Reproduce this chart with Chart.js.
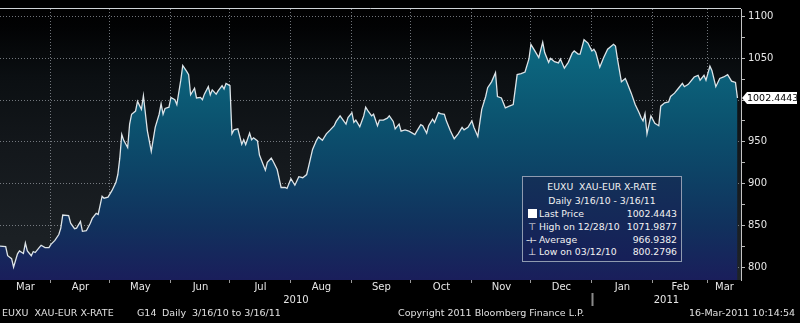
<!DOCTYPE html>
<html><head><meta charset="utf-8">
<script src="https://cdn.jsdelivr.net/npm/chart.js@4/dist/chart.umd.min.js"></script>
<style>
html,body{margin:0;padding:0;background:#000;}
#wrap{position:relative;width:800px;height:323px;overflow:hidden;background:#000;font-family:"DejaVu Sans",sans-serif;color:#e8e8e8;}
#c{position:absolute;left:0;top:0;}
#legend{position:absolute;left:522px;top:176px;width:158px;height:84px;border:1px solid #8f9bb0;background:linear-gradient(#133158,#161f58);font-size:9.3px;color:#f2f2f2;}
#legend .row{position:absolute;left:0;right:0;height:13px;line-height:13px;white-space:pre;}
#legend .c{text-align:center;}
#legend .ic{position:absolute;left:5px;}
#legend .lab{position:absolute;left:16px;}
#legend .val{position:absolute;right:4px;}
#legend .sq{position:absolute;left:5px;top:2px;width:9px;height:9px;background:#fff;}
#last{position:absolute;left:747px;width:50px;height:12px;line-height:12px;background:#fff;color:#000;font-size:9.5px;text-align:center;}
#last:before{content:'';position:absolute;left:-5px;top:0;border-top:6px solid transparent;border-bottom:6px solid transparent;border-right:5px solid #fff;}
#footer span{position:absolute;top:307px;font-size:9.5px;line-height:12px;white-space:pre;color:#e0e0e0;}
</style></head>
<body>
<div id="wrap">
<canvas id="c" width="800" height="323"></canvas>
<div id="legend">
  <div class="row c" style="top:3px">EUXU  XAU-EUR X-RATE</div>
  <div class="row c" style="top:17px">Daily 3/16/10 - 3/16/11</div>
  <div class="row" style="top:30px"><span class="sq"></span><span class="lab">Last Price</span><span class="val" id="vLast"></span></div>
  <div class="row" style="top:43px"><span class="ic">&#x22A4;</span><span class="lab" id="lHigh"></span><span class="val" id="vHigh"></span></div>
  <div class="row" style="top:56px"><span class="ic" style="letter-spacing:-2px;left:3px">-+-</span><span class="lab">Average</span><span class="val" id="vAvg"></span></div>
  <div class="row" style="top:68px"><span class="ic">&#x22A5;</span><span class="lab" id="lLow"></span><span class="val" id="vLow"></span></div>
</div>
<div id="last"></div>
<div id="footer">
  <span style="left:2px">EUXU  XAU-EUR X-RATE</span>
  <span style="left:137px">G14</span>
  <span style="left:162px">Daily  3/16/10 to 3/16/11</span>
  <span style="left:398px">Copyright 2011 Bloomberg Finance L.P.</span>
  <span style="right:5px">16-Mar-2011 10:14:54</span>
</div>
</div>
<script>
// ---- data: calendar days after 2010-03-01, and XAU-EUR price ----
const dayOffsets = [5,8,9,11,12,14,15,17,18,19,21,22,23,25,26,28,30,31,33,35,36,37,40,41,43,44,46,47,49,51,52,54,55,57,58,60,62,64,65,66,67,68,70,71,72,74,75,77,78,80,82,84,86,87,88,89,91,92,94,95,97,98,100,101,102,104,105,107,108,109,111,112,113,115,116,118,119,120,122,123,124,126,128,129,130,132,133,134,136,137,140,141,143,144,146,148,150,151,153,155,157,159,161,162,164,166,167,169,171,173,175,176,178,180,181,182,184,185,186,188,190,191,192,194,195,197,198,200,202,203,205,206,208,209,211,213,216,217,219,220,222,223,225,226,228,229,231,232,234,236,238,240,241,243,245,246,248,250,252,253,255,257,258,260,262,264,266,268,270,272,274,275,277,279,281,282,284,285,287,289,290,292,294,296,297,299,300,302,304,306,307,308,310,312,314,317,318,319,321,323,324,326,328,330,331,332,333,334,336,338,340,341,343,345,346,348,350,352,353,355,358,360,361,363,364,366,367,369,371,373,375,377,379,380];
const prices = [825.6,824.8,814.0,810.5,800.28,816.3,819.8,816.7,829.1,819.8,814.0,819.0,817.8,823.7,826.5,823.7,823.7,827.6,832.3,839.3,847.0,862.6,861.8,852.8,846.3,847.0,854.8,843.1,843.9,852.8,858.6,864.5,863.3,885.1,882.7,883.9,891.7,901.4,911.0,930.5,958.8,951.8,943.3,971.3,983.0,986.8,998.4,988.8,1005.1,963.5,938.7,967.4,983.0,995.4,983.0,989.9,991.4,1003.1,1000.4,994.6,1023.7,1041.2,1034.2,1030.3,1006.2,1014.0,1002.4,1003.1,1000.4,1007.0,1015.9,1006.2,1012.1,1007.0,1010.9,1017.1,1013.2,1019.9,1017.1,959.6,964.3,965.5,947.2,952.6,946.8,960.4,952.6,954.9,951.1,934.3,916.2,925.5,930.5,926.6,916.9,895.5,895.5,894.4,906.0,898.2,908.4,907.2,911.0,920.8,941.0,951.8,955.8,951.8,959.6,964.3,969.3,974.4,981.0,974.4,971.3,979.1,984.9,973.2,975.9,968.1,981.0,991.4,987.6,981.0,983.0,969.3,976.0,976.0,978.3,981.0,974.4,965.5,971.3,962.8,964.3,962.8,958.8,962.8,970.5,969.3,960.4,969.3,977.1,973.2,984.9,983.7,983.0,975.1,963.5,953.8,959.6,967.4,964.3,967.4,975.1,967.4,956.5,988.8,1004.2,1014.7,1021.7,1032.7,1004.2,1002.4,990.7,992.6,994.6,1030.3,1031.5,1033.4,1049.0,1066.5,1058.7,1050.8,1069.0,1056.7,1045.0,1049.7,1045.8,1044.3,1049.0,1038.0,1045.0,1056.0,1058.6,1054.8,1054.8,1071.9877,1068.0,1058.6,1060.6,1056.7,1039.2,1050.8,1060.6,1066.5,1064.5,1049.0,1021.7,1025.7,1019.9,1008.2,994.6,984.9,979.1,975.1,983.7,959.6,981.0,972.1,969.3,992.6,996.6,997.7,1004.2,1008.2,1014.0,1019.9,1015.9,1018.7,1027.5,1029.5,1023.7,1029.5,1023.7,1040.4,1035.4,1015.9,1025.7,1027.5,1030.3,1022.5,1021.0,1002.4443];
const monthNames = ['Mar','Apr','May','Jun','Jul','Aug','Sep','Oct','Nov','Dec','Jan','Feb','Mar'];
const yearNames = ['2010','2011'];
const yTickValues = [800,850,900,950,1000,1050,1100];
const stats = {last:'1002.4443', high:'1071.9877', highDate:'12/28/10', avg:'966.9382', low:'800.2796', lowDate:'03/12/10'};
const lastPrice = 1002.4443;

// ---- window ----
const X_MIN = 5.1, X_MAX = 381.8;
const Y_MIN = 785, Y_MAX = 1108.7;
const DAY = 86400000, ORIGIN = Date.UTC(2010,2,1);
const monthStart = i => (Date.UTC(2010, 2 + i, 1) - ORIGIN) / DAY;
const yearStart = i => (Date.UTC(2010 + i, 0, 1) - ORIGIN) / DAY;

document.getElementById('vLast').textContent = stats.last;
document.getElementById('vHigh').textContent = stats.high;
document.getElementById('lHigh').textContent = 'High on ' + stats.highDate;
document.getElementById('vAvg').textContent = stats.avg;
document.getElementById('vLow').textContent = stats.low;
document.getElementById('lLow').textContent = 'Low on ' + stats.lowDate;
document.getElementById('last').textContent = stats.last;

const GRID = 'rgba(150,155,162,0.75)';
Chart.defaults.font.family = '"DejaVu Sans", sans-serif';
Chart.defaults.font.size = 10;
Chart.defaults.color = '#e6e6e6';

const bgPlugin = {
  id: 'bg',
  beforeDraw(chart) {
    const {ctx, chartArea: ca} = chart;
    ctx.save();
    ctx.fillStyle = '#000';
    ctx.fillRect(0, 0, chart.width, chart.height);
    const g = ctx.createLinearGradient(0, ca.top, 0, ca.bottom);
    g.addColorStop(0, '#000000');
    g.addColorStop(0.07, '#020304');
    g.addColorStop(0.25, '#0b0f12');
    g.addColorStop(0.5, '#13171b');
    g.addColorStop(0.8, '#1a1f23');
    g.addColorStop(1, '#1e2327');
    ctx.fillStyle = g;
    ctx.fillRect(ca.left, ca.top, ca.right - ca.left, ca.bottom - ca.top);
    ctx.restore();
  },
  afterDraw(chart) {
    const {ctx, chartArea: ca} = chart;
    ctx.save();
    ctx.strokeStyle = '#cfd3d6';
    ctx.lineWidth = 1;
    ctx.beginPath();
    ctx.moveTo(ca.left, ca.top - 0.5);
    ctx.lineTo(ca.right, ca.top - 0.5);
    ctx.stroke();
    const xs = chart.scales.x;
    const px = Math.round(xs.getPixelForValue(yearStart(1))) + 0.5;
    ctx.strokeStyle = '#8a8a8a';
    ctx.lineWidth = 2;
    ctx.beginPath();
    ctx.moveTo(px, ca.bottom + 13);
    ctx.lineTo(px, ca.bottom + 26);
    ctx.stroke();
    ctx.restore();
    const yp = chart.scales.y.getPixelForValue(lastPrice);
    document.getElementById('last').style.top = (yp - 6) + 'px';
  }
};

const monthTicks = () => {
  const t = [];
  for (let i = 0; i < monthNames.length; i++) {
    const s = monthStart(i), e = monthStart(i + 1);
    const a = Math.max(s, X_MIN), b = Math.min(e, X_MAX);
    if (b > a) t.push({value: (a + b) / 2, kind: 'label', name: monthNames[i]});
    if (s > X_MIN && s < X_MAX) t.push({value: s, kind: 'grid'});
  }
  return t.sort((p, q) => p.value - q.value);
};
const yearTicks = () => yearNames.map((n, i) => {
  const a = Math.max(yearStart(i), X_MIN), b = Math.min(yearStart(i + 1), X_MAX);
  return {value: (a + b) / 2, name: n};
});

new Chart(document.getElementById('c'), {
  type: 'line',
  data: {
    datasets: [{
      data: dayOffsets.map((d, i) => ({x: d, y: prices[i]})),
      borderColor: '#dde4e8',
      borderWidth: 1.3,
      pointRadius: 0,
      tension: 0,
      fill: 'start',
      backgroundColor: (c) => {
        const ca = c.chart.chartArea;
        if (!ca) return '#0c4a68';
        const g = c.chart.ctx.createLinearGradient(0, ca.top, 0, ca.bottom);
        g.addColorStop(0, '#0e7189');
        g.addColorStop(0.15, '#0c6880');
        g.addColorStop(0.4, '#0b5470');
        g.addColorStop(0.6, '#0d4366');
        g.addColorStop(0.8, '#11315d');
        g.addColorStop(1, '#1a1e5b');
        return g;
      }
    }]
  },
  options: {
    responsive: false,
    animation: false,
    events: [],
    layout: {padding: {top: 2, left: 0, right: 0, bottom: 20}},
    plugins: {legend: {display: false}, tooltip: {enabled: false}},
    scales: {
      x: {
        type: 'linear', position: 'bottom', min: X_MIN, max: X_MAX, weight: 0, z: 1,
        afterBuildTicks: (ax) => { ax.ticks = monthTicks(); },
        afterFit: (ax) => { ax.height = 12; },
        ticks: {autoSkip: false, maxRotation: 0, padding: -2, color: '#e6e6e6', font: {size: 10},
          callback: (v, i, t) => t[i].kind === 'label' ? t[i].name : ''},
        grid: {
          color: (c) => (c.tick && c.tick.kind === 'grid') ? GRID : 'rgba(0,0,0,0)',
          tickColor: (c) => (c.tick && c.tick.kind === 'grid') ? '#9a9a9a' : 'rgba(0,0,0,0)',
          tickLength: 3, lineWidth: 1
        },
        border: {display: false, dash: [1, 2]}
      },
      x2: {
        type: 'linear', position: 'bottom', min: X_MIN, max: X_MAX, weight: 1,
        afterBuildTicks: (ax) => { ax.ticks = yearTicks(); },
        afterFit: (ax) => { ax.height = 11; },
        ticks: {autoSkip: false, maxRotation: 0, padding: 2, color: '#e6e6e6', font: {size: 10},
          callback: (v, i, t) => t[i].name},
        grid: {display: false, drawTicks: false},
        border: {display: false}
      },
      y: {
        type: 'linear', position: 'right', min: Y_MIN, max: Y_MAX, z: 1,
        afterFit: (ax) => { ax.width = 59; },
        ticks: {stepSize: 25, includeBounds: false, padding: 3, color: '#e6e6e6', font: {size: 10},
          callback: (v) => yTickValues.includes(v) ? String(v) : ''},
        grid: {
          color: (c) => (c.tick && yTickValues.includes(c.tick.value)) ? GRID : 'rgba(0,0,0,0)',
          tickColor: '#b8b8b8', tickLength: 4, lineWidth: 1
        },
        border: {display: true, color: '#c4c4c4', width: 1, dash: [1, 2]}
      }
    }
  },
  plugins: [bgPlugin]
});
</script>
</body></html>
